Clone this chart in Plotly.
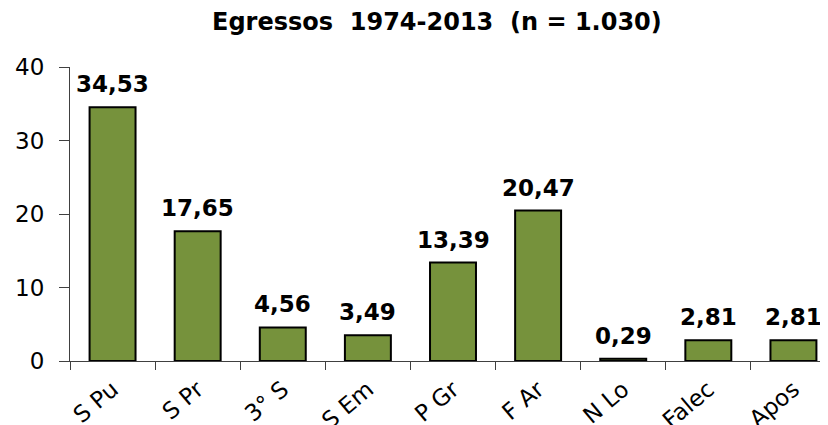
import plotly.graph_objects as go

categories = ["S Pu", "S Pr", "3° S", "S Em", "P Gr", "F Ar", "N Lo", "Falec", "Apos"]
values = [34.53, 17.65, 4.56, 3.49, 13.39, 20.47, 0.29, 2.81, 2.81]
y_ticks = [0, 10, 20, 30, 40]

FONT = "DejaVu Sans"

fig = go.Figure(
    go.Bar(
        x=categories,
        y=values,
        marker=dict(color="#76923C", line=dict(color="#000000", width=2)),
        cliponaxis=False,
        width=0.54,
    )
)

for c, v in zip(categories, values):
    fig.add_annotation(
        x=c,
        y=v,
        text="<b>" + f"{v:.2f}".replace(".", ",") + "</b>",
        showarrow=False,
        yanchor="bottom",
        yshift=8,
        font=dict(family=FONT, size=23, color="#000000"),
    )

fig.update_layout(
    width=828,
    height=425,
    separators=",.",
    plot_bgcolor="white",
    paper_bgcolor="white",
    margin=dict(l=62, r=0, t=59, b=72),
    showlegend=False,
    title=dict(
        text="<b>Egressos\u00a0 1974-2013\u00a0 (n = 1.030)</b>",
        x=0.518,
        xanchor="center",
        y=0.967,
        yanchor="middle",
        font=dict(family=FONT, size=24, color="#000000"),
    ),
)

fig.update_yaxes(
    range=[0, 40],
    tickvals=y_ticks,
    showgrid=False,
    zeroline=False,
    showline=True,
    linecolor="#404040",
    linewidth=1,
    ticks="outside",
    ticklen=10,
    tickcolor="#404040",
    ticklabelstandoff=10,
    automargin=False,
    tickfont=dict(family=FONT, size=23, color="#000000"),
)

fig.update_xaxes(
    range=[-0.5, 8.5],
    showgrid=False,
    showline=True,
    linecolor="#404040",
    linewidth=1,
    ticks="outside",
    tickson="boundaries",
    ticklen=8,
    tickcolor="#404040",
    tickangle=-40,
    ticklabelstandoff=5,
    automargin=False,
    tickfont=dict(family=FONT, size=23, color="#000000"),
)

fig.write_html("out.html")
